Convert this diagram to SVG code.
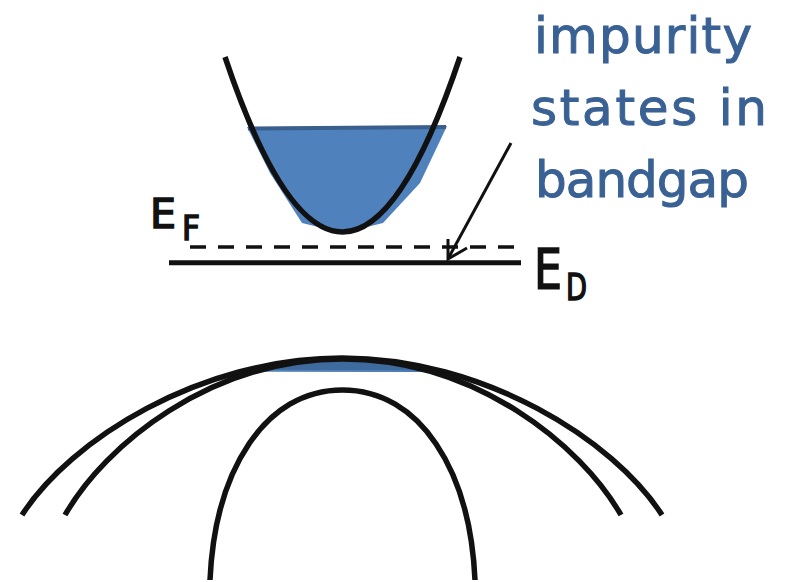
<svg xmlns="http://www.w3.org/2000/svg" width="789" height="582" viewBox="0 0 789 582">
<style>
.band{fill:none;stroke:#111;stroke-width:5.5;stroke-linecap:butt}
.lbl{font-family:"DejaVu Sans","Liberation Sans",sans-serif;fill:#111;stroke:#111;stroke-width:1.6}
.blue{font-family:"DejaVu Sans","Liberation Sans",sans-serif;fill:#3A6194;stroke:#3A6194;stroke-width:1;font-size:50px}
</style>
<rect width="789" height="582" fill="#fff"/>
<g id="conduction-band">
<path d="M247,127 L447,126 L420,183 L383,223 L343,233 L302,223 L270,173 Z" fill="#4F81BD"/>
<path d="M248,128.5 L446,127" stroke="#3A5F8C" stroke-width="4" fill="none"/>
<path class="band" d="M225,57 Q342.5,407 460,57"/>
</g>
<g id="valence-bands">
<path d="M248,369 L290,366 L320,359 L370,359 L430,370 L430,372 L248,371.5 Z" fill="#3F6A9E"/>
<path d="M248,370.5 L430,371" stroke="#4F81BD" stroke-width="1.5" fill="none"/>
<path class="band" d="M22,515 C70,440 200,358 342,358 S614,440 662,515"/>
<path class="band" d="M65,515 C105,445 210,359 343,359 S581,445 621,515"/>
<path class="band" d="M210,580 C215,470 265,390 342.5,390 S470,470 475,580"/>
</g>
<g id="levels">
<line x1="190" y1="247" x2="516" y2="247" stroke="#111" stroke-width="3.5" stroke-dasharray="16 12"/>
<line x1="169" y1="262.7" x2="521" y2="262.7" stroke="#111" stroke-width="5"/>
</g>
<g id="label-EF">
<text class="lbl" x="150" y="228" font-size="41" textLength="26" lengthAdjust="spacingAndGlyphs">E</text>
<text class="lbl" x="182" y="240" font-size="34" textLength="18" lengthAdjust="spacingAndGlyphs">F</text>
</g>
<g id="label-ED">
<text class="lbl" x="534" y="288" font-size="56" textLength="28" lengthAdjust="spacingAndGlyphs">E</text>
<text class="lbl" x="566" y="300" font-size="37" textLength="21" lengthAdjust="spacingAndGlyphs">D</text>
</g>
<g id="label-impurity">
<text class="blue" x="534" y="53" textLength="218" lengthAdjust="spacing">impurity</text>
<text class="blue" x="531" y="125" textLength="236" lengthAdjust="spacing">states in</text>
<text class="blue" x="535" y="197" textLength="214" lengthAdjust="spacing">bandgap</text>
</g>
<g id="connectors">
<path d="M511,143 L449,257" stroke="#111" stroke-width="3" fill="none"/>
<path d="M448,239 L448,259 L467,248" stroke="#111" stroke-width="3" fill="none" stroke-linejoin="miter"/>
</g>
</svg>
